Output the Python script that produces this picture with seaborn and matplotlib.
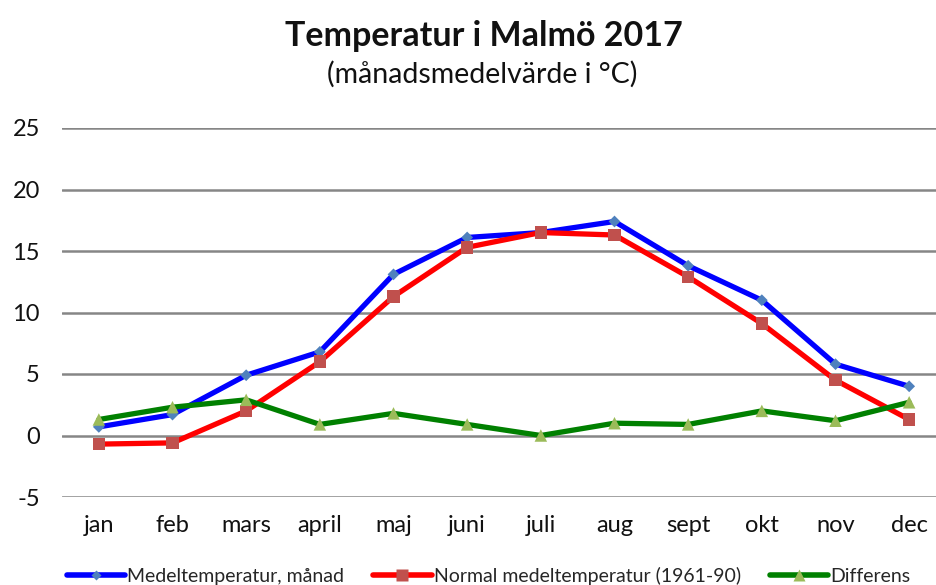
import pandas as pd
import matplotlib
matplotlib.use("Agg")
import matplotlib.pyplot as plt
from matplotlib.lines import Line2D
import seaborn as sns

# data
months = ['jan', 'feb', 'mars', 'april', 'maj', 'juni', 'juli', 'aug', 'sept', 'okt', 'nov', 'dec']
medel_2017 = [0.7, 1.7, 4.9, 6.8, 13.1, 16.1, 16.5, 17.4, 13.8, 11.0, 5.8, 4.0]
normal = [-0.7, -0.6, 2.0, 6.0, 11.3, 15.3, 16.5, 16.3, 12.9, 9.1, 4.5, 1.3]
differens = [1.3, 2.3, 2.9, 0.9, 1.8, 0.9, 0.0, 1.0, 0.9, 2.0, 1.2, 2.7]

labels = ['Medeltemperatur, månad', 'Normal medeltemperatur (1961-90)', 'Differens']

df = pd.DataFrame({'month': months, labels[0]: medel_2017, labels[1]: normal, labels[2]: differens})
df['x'] = range(len(months))
long = df.melt(id_vars=['month', 'x'], var_name='serie', value_name='temp')

sns.set_theme(style='white')
plt.rcParams['font.family'] = ['Lato', 'DejaVu Sans']
plt.rcParams['axes.unicode_minus'] = False

fig = plt.figure(figsize=(9.36, 5.85), dpi=100)
ax = fig.add_axes([62 / 936, 1 - 497 / 585, 884 / 936, 369 / 585])

line_cols = {labels[0]: '#0000ff', labels[1]: '#ff0000', labels[2]: '#008000'}
mark_cols = {labels[0]: '#4f81bd', labels[1]: '#c0504d', labels[2]: '#9bbb59'}
marks = {labels[0]: 'D', labels[1]: 's', labels[2]: '^'}
msize = {labels[0]: 6, labels[1]: 9, labels[2]: 9}

sns.lineplot(data=long, x='x', y='temp', hue='serie', palette=line_cols,
             linewidth=3.8, ax=ax, legend=False, zorder=3)
for s in labels:
    sub = long[long['serie'] == s]
    sns.scatterplot(x=sub['x'], y=sub['temp'], marker=marks[s], color=mark_cols[s],
                    s=msize[s] ** 2, edgecolor='none', ax=ax, zorder=4, legend=False)

ax.set_xlim(-0.5, 11.5)
ax.set_ylim(-5, 25)
ax.set_yticks(range(-5, 26, 5))
ax.set_xticks(range(len(months)))
ax.set_xticklabels(months)
ax.yaxis.grid(True, color='#868686', linewidth=1.8)
ax.set_axisbelow(True)
for sp in ax.spines.values():
    sp.set_visible(False)
ax.tick_params(axis='both', length=0, labelsize=17, colors='#111111')
ax.tick_params(axis='y', pad=16)
ax.tick_params(axis='x', pad=13)
ax.set_xlabel('')
ax.set_ylabel('')

fig.text(484 / 936, 1 - 36 / 585, 'Temperatur i Malmö 2017', ha='center', va='center',
         fontsize=24.5, fontweight='bold', color='#111111')
fig.text(482 / 936, 1 - 74 / 585, '(månadsmedelvärde i °C)', ha='center', va='center',
         fontsize=20.5, color='#111111')

# legend
handles = [Line2D([], [], color=line_cols[s], lw=4, marker=marks[s], markersize=msize[s] * 0.9,
                  markerfacecolor=mark_cols[s], markeredgecolor='none') for s in labels]
fig.legend(handles, labels, loc='center', bbox_to_anchor=(0.522, 1 - 576 / 585), ncol=3,
           frameon=False, fontsize=14, handlelength=3.0, handletextpad=0.1,
           columnspacing=1.5, borderpad=0)

fig.savefig('out.png', dpi=100)
